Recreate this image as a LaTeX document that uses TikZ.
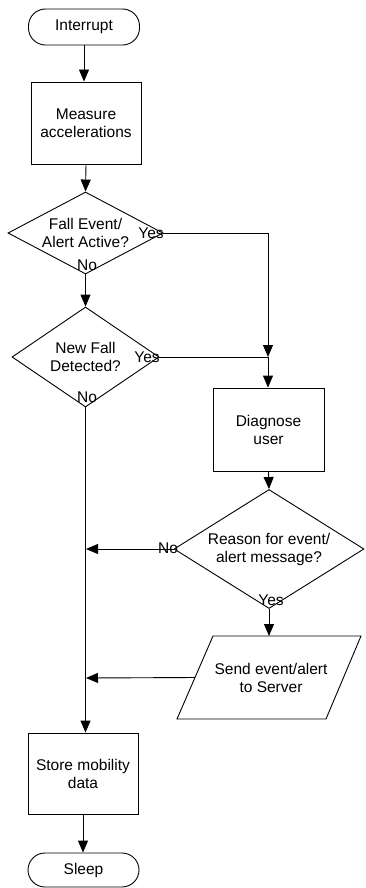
\documentclass[tikz,border=0pt]{standalone}
\usepackage{fontspec}
\setmainfont{Liberation Sans}
\usetikzlibrary{arrows.meta,shapes.geometric}
\begin{document}
\begin{tikzpicture}[x=1pt,y=-1pt,
  every node/.style={font=\fontsize{15.5}{18}\selectfont, align=center},
  base/.style={draw, line width=0.9pt, inner sep=0pt},
  term/.style={base, rounded corners=17pt, minimum width=111pt, minimum height=36pt},
  proc/.style={base, minimum width=110pt, minimum height=82pt},
  dec/.style={base, diamond},
  lbl/.style={inner sep=0pt},
  flow/.style={line width=0.9pt, -{Triangle[length=12pt,width=10pt]}},
  conn/.style={line width=0.9pt}]
\useasboundingbox (0,0) rectangle (365,888);

\node[term] (int) at (84,27) {Interrupt};
\node[proc] (meas) at (86,123) {Measure\\accelerations};
\node[dec, shape aspect=1.89, minimum width=155pt, minimum height=82pt] (d1) at (85.5,233) {Fall Event/\\Alert Active?};
\node[dec, shape aspect=1.47, minimum width=147pt, minimum height=100pt] (d2) at (85.5,357) {New Fall\\Detected?};
\node[proc, minimum width=111pt, minimum height=83pt] (diag) at (268.5,429.5) {Diagnose\\user};
\node[dec, shape aspect=1.6, minimum width=190pt, minimum height=119pt] (d3) at (269,549) {Reason for event/\\alert message?};

\coordinate (pa) at (213,636);
\coordinate (pb) at (361,636);
\coordinate (pc) at (326,719);
\coordinate (pd) at (177,719);
\draw[conn] (pa) -- (pb) -- (pc) -- (pd) -- cycle;
\node (send) at (271,678) {Send event/alert\\to Server};
\coordinate (ptop) at (269,636);
\coordinate (pleft) at (195,677.5);

\node[proc, minimum height=81pt] (store) at (83,773.5) {Store mobility\\data};
\node[term, minimum height=34pt] (sleep) at (83.5,870) {Sleep};

\coordinate (j1) at (268,233);
\coordinate (j2) at (268,357);
\coordinate (m1) at (86,549);
\coordinate (m2) at (86,678);

\draw[flow] (int.south) -- (int.south |- meas.north);
\draw[flow] (meas.south) -- (d1.north);
\draw[conn] (d1.east) -- (j1);
\draw[flow] (j1) -- (j2);
\draw[flow] (d1.south) -- (d2.north);
\draw[conn] (d2.east) -- (j2);
\draw[flow] (j2) -- (j2 |- diag.north);
\draw[flow] (diag.south) -- (d3.north);
\draw[flow] (d3.west) -- (m1);
\draw[flow] (d3.south) -- (ptop);
\draw[flow] (pleft) -- (m2);
\draw[flow] (d2.south) -- (d2.south |- store.north);
\draw[flow] (store.south) -- (store.south |- sleep.north);

\node[lbl] (y1) at (151,233) {Yes};
\node[lbl] (n1) at (87,265) {No};
\node[lbl] (y2) at (147,357) {Yes};
\node[lbl] (n2) at (87,397) {No};
\node[lbl] (n3) at (168,548) {No};
\node[lbl] (y3) at (271,600) {Yes};
\end{tikzpicture}
\end{document}
